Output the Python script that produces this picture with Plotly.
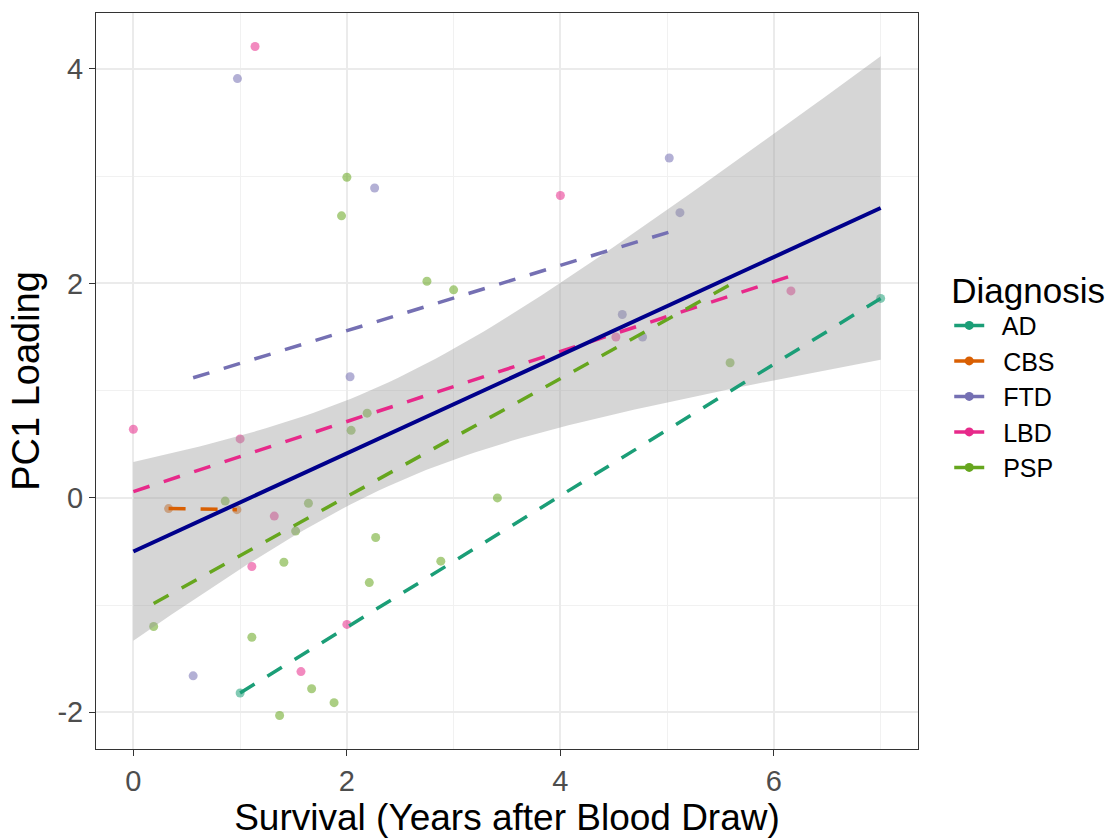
import numpy as np
import plotly.graph_objects as go

# ---- data ----
diagnoses = ["AD", "CBS", "FTD", "LBD", "PSP"]
colors = {"AD": "#1B9E77", "CBS": "#D95F02", "FTD": "#7570B3", "LBD": "#E7298A", "PSP": "#66A61E"}

AD_x = [1.0, 7.0]
AD_y = [-1.82, 1.86]
CBS_x = [0.33, 0.97]
CBS_y = [-0.10, -0.11]
FTD_x = [0.975, 2.26, 2.03, 0.56, 5.02, 5.12, 4.58, 4.77]
FTD_y = [3.91, 2.89, 1.13, -1.66, 3.17, 2.66, 1.71, 1.50]
LBD_x = [1.14, 0.0, 1.0, 1.32, 1.11, 2.0, 1.57, 4.0, 6.16, 4.52]
LBD_y = [4.21, 0.64, 0.55, -0.17, -0.64, -1.18, -1.62, 2.82, 1.93, 1.50]
PSP_x = [2.0, 1.95, 2.75, 3.0, 0.86, 1.64, 2.04, 2.19, 1.52, 2.27,
         1.41, 2.21, 2.88, 3.41, 0.19, 1.11, 1.67, 1.88, 1.37, 5.59]
PSP_y = [2.99, 2.63, 2.02, 1.94, -0.03, -0.05, 0.63, 0.79, -0.31, -0.37,
         -0.60, -0.79, -0.59, 0.0, -1.20, -1.30, -1.78, -1.91, -2.03, 1.26]

x_ticks = [0, 2, 4, 6]
y_ticks = [-2, 0, 2, 4]

data = {"AD": (AD_x, AD_y), "CBS": (CBS_x, CBS_y), "FTD": (FTD_x, FTD_y),
        "LBD": (LBD_x, LBD_y), "PSP": (PSP_x, PSP_y)}

FONT = "Liberation Sans, Arial, sans-serif"
fig = go.Figure()

# points
for d in diagnoses:
    xs, ys = data[d]
    fig.add_trace(go.Scatter(x=xs, y=ys, mode="markers",
                             marker=dict(color=colors[d], size=9, opacity=0.55, line=dict(width=0)),
                             showlegend=False, hoverinfo="skip"))

# overall linear fit with 95% CI
ax = np.concatenate([np.array(data[d][0]) for d in diagnoses])
ay = np.concatenate([np.array(data[d][1]) for d in diagnoses])
n = len(ax)
b1, b0 = np.polyfit(ax, ay, 1)
resid = ay - (b0 + b1 * ax)
s = np.sqrt(np.sum(resid ** 2) / (n - 2))
xbar = ax.mean()
sxx = np.sum((ax - xbar) ** 2)
tval = 2.021  # t(0.975, df=40)
xg = np.linspace(ax.min(), ax.max(), 80)
yg = b0 + b1 * xg
se = s * np.sqrt(1.0 / n + (xg - xbar) ** 2 / sxx)
lo = yg - tval * se
hi = yg + tval * se

fig.add_trace(go.Scatter(x=np.concatenate([xg, xg[::-1]]), y=np.concatenate([hi, lo[::-1]]),
                         mode="lines", fill="toself", fillcolor="rgba(153,153,153,0.4)",
                         line=dict(width=0), showlegend=False, hoverinfo="skip"))

# group fits (dashed)
for d in diagnoses:
    xs, ys = np.array(data[d][0]), np.array(data[d][1])
    g1, g0 = np.polyfit(xs, ys, 1)
    gx = np.linspace(xs.min(), xs.max(), 80)
    fig.add_trace(go.Scatter(x=gx, y=g0 + g1 * gx, mode="lines",
                             line=dict(color=colors[d], width=3.5, dash="17px,15px"),
                             showlegend=False, hoverinfo="skip"))

fig.add_trace(go.Scatter(x=xg, y=yg, mode="lines", line=dict(color="#00008B", width=4),
                         showlegend=False, hoverinfo="skip"))

# legend entries
for d in diagnoses:
    fig.add_trace(go.Scatter(x=[None], y=[None], mode="lines+markers", name="  " + d,
                             line=dict(color=colors[d], width=3.5),
                             marker=dict(color=colors[d], size=9)))

xmin, xmax = ax.min(), ax.max()
ymin, ymax = ay.min(), ay.max()
xr = [xmin - 0.05 * (xmax - xmin), xmax + 0.05 * (xmax - xmin)]
yr = [ymin - 0.05 * (ymax - ymin), ymax + 0.05 * (ymax - ymin)]

axis_common = dict(showline=True, linecolor="#333333", linewidth=1, mirror=True,
                   ticks="outside", ticklen=6, tickwidth=1.2, tickcolor="#333333",
                   tickfont=dict(family=FONT, size=29, color="#4D4D4D"),
                   showgrid=True, gridcolor="#EBEBEB", gridwidth=1.6, zeroline=False,
                   minor=dict(dtick=1, showgrid=True, gridcolor="#F1F1F1", gridwidth=1.2, ticks=""))

fig.update_layout(
    width=1111, height=838,
    margin=dict(l=96, r=193, t=13, b=89, autoexpand=False),
    plot_bgcolor="white", paper_bgcolor="white",
    font=dict(family=FONT),
    xaxis=dict(range=xr, tickvals=x_ticks, ticktext=[str(v) for v in x_ticks], tick0=0,
               title=dict(text="Survival (Years after Blood Draw)",
                          font=dict(family=FONT, size=37, color="black"), standoff=5),
               **axis_common),
    yaxis=dict(range=yr, tickvals=y_ticks, ticktext=[str(v) for v in y_ticks], tick0=0,
               title=dict(text="PC1 Loading",
                          font=dict(family=FONT, size=38, color="black"), standoff=6),
               **axis_common),
    legend=dict(x=1.038, xanchor="left", y=0.51, yanchor="middle",
                title=dict(text="Diagnosis", font=dict(family=FONT, size=35, color="black")),
                font=dict(family=FONT, size=25, color="black"),
                bgcolor="rgba(0,0,0,0)", itemwidth=30),
)

fig.write_html("out.html")
